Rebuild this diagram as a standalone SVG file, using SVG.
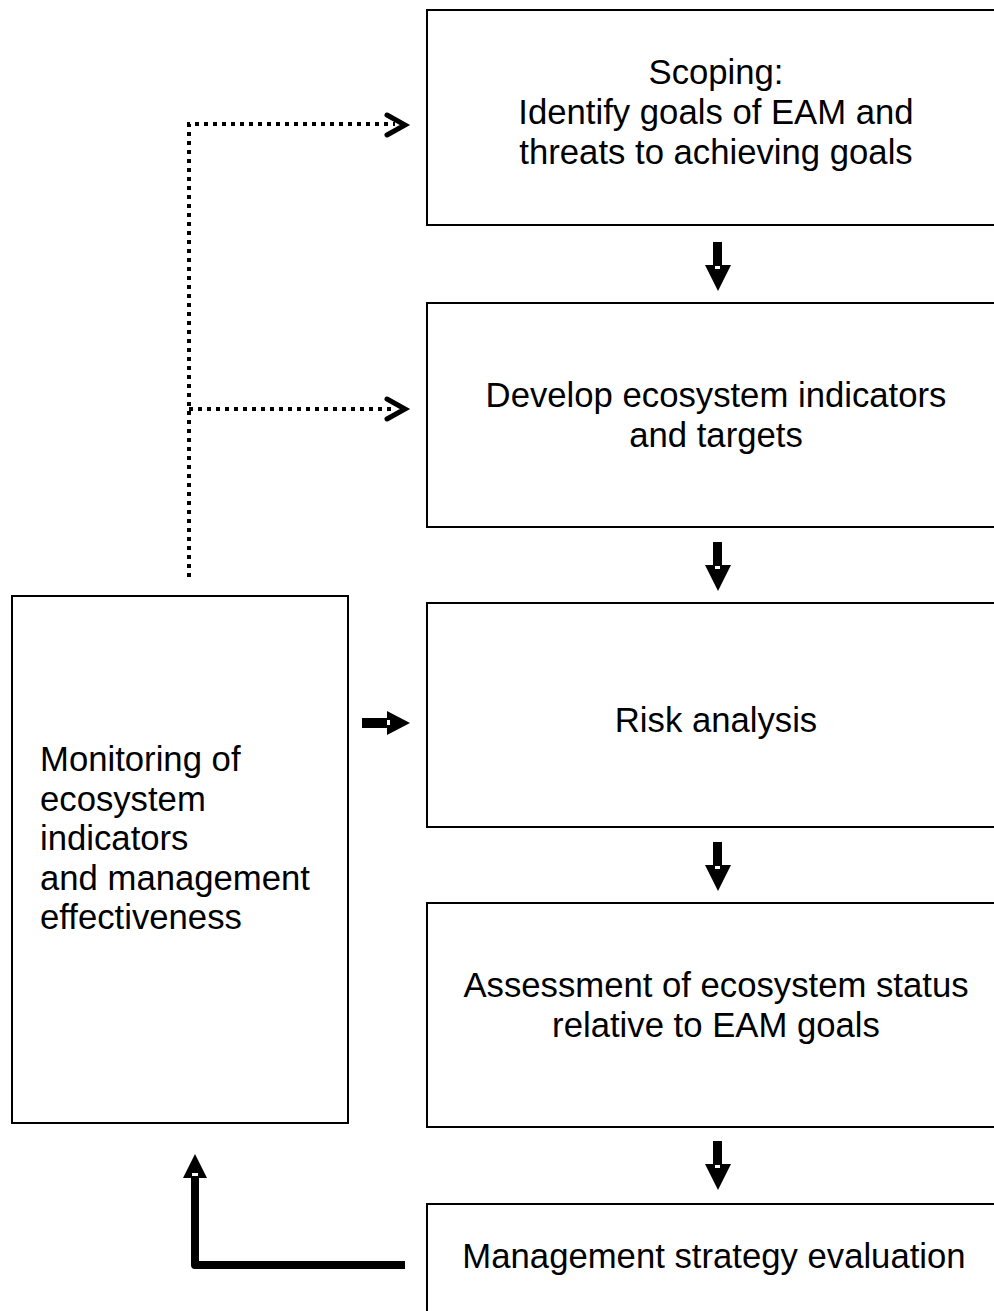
<svg xmlns="http://www.w3.org/2000/svg" width="994" height="1311" viewBox="0 0 994 1311">
<style>
.box{fill:#fff;stroke:#000;stroke-width:2}
.t{font-family:"Liberation Sans",Arial,sans-serif;font-size:34.7px;fill:#000}
.c{text-anchor:middle}
.dot{fill:none;stroke:#000;stroke-width:4;stroke-dasharray:4 5}
.chev{fill:none;stroke:#000;stroke-width:5;stroke-linecap:round;stroke-linejoin:miter}
.blk{fill:#000}
.notch{fill:#fff}
</style>
<rect width="994" height="1311" fill="#fff"/>
<g id="n1"><rect class="box" x="427" y="10" width="580" height="215"/>
<text class="t c" x="716" y="84">Scoping:</text>
<text class="t c" x="716" y="124">Identify goals of EAM and</text>
<text class="t c" x="716" y="164">threats to achieving goals</text></g>
<g id="n2"><rect class="box" x="427" y="303" width="580" height="224"/>
<text class="t c" x="716" y="407">Develop ecosystem indicators</text>
<text class="t c" x="716" y="447">and targets</text></g>
<g id="n3"><rect class="box" x="427" y="603" width="580" height="224"/>
<text class="t c" x="716" y="732">Risk analysis</text></g>
<g id="n4"><rect class="box" x="427" y="903" width="580" height="224"/>
<text class="t c" x="716" y="997">Assessment of ecosystem status</text>
<text class="t c" x="716" y="1037">relative to EAM goals</text></g>
<g id="n5"><rect class="box" x="427" y="1204" width="580" height="130"/>
<text class="t c" x="714" y="1268">Management strategy evaluation</text></g>
<g id="n6"><rect class="box" x="12" y="596" width="336" height="527"/>
<text class="t" x="40" y="771">Monitoring of</text>
<text class="t" x="40" y="810.5">ecosystem</text>
<text class="t" x="40" y="850">indicators</text>
<text class="t" x="40" y="889.5">and management</text>
<text class="t" x="40" y="929">effectiveness</text></g>
<g id="connectors">
<g id="down1"><rect class="blk" x="713" y="242" width="9" height="24"/><polygon class="blk" points="705,265 731,265 718,291"/><rect class="notch" x="715" y="266" width="5" height="3"/></g>
<g id="down2"><rect class="blk" x="713" y="542" width="9" height="24"/><polygon class="blk" points="705,565 731,565 718,591"/><rect class="notch" x="715" y="566" width="5" height="3"/></g>
<g id="down3"><rect class="blk" x="713" y="842" width="9" height="24"/><polygon class="blk" points="705,865 731,865 718,891"/><rect class="notch" x="715" y="866" width="5" height="3"/></g>
<g id="down4"><rect class="blk" x="713" y="1141" width="9" height="24"/><polygon class="blk" points="705,1164 731,1164 718,1190"/><rect class="notch" x="715" y="1165" width="5" height="3"/></g>
<g id="right1"><rect class="blk" x="362" y="718" width="26" height="10"/><polygon class="blk" points="387,711 387,735 410,723"/><rect class="notch" x="387" y="720" width="3" height="5"/></g>
<g id="feedback"><path d="M405,1265 H195 V1176" fill="none" stroke="#000" stroke-width="8" stroke-linejoin="round"/><polygon class="blk" points="183,1178 207,1178 195,1154"/><rect class="notch" x="192" y="1173" width="6" height="3"/></g>
<g id="dotted"><path class="dot" d="M189,577 V124 H395"/><path class="dot" d="M189,409 H395"/>
<polyline class="chev" points="387,115 405,125 387,135"/>
<polyline class="chev" points="387,399 405,409 387,419"/></g>
</g>
</svg>
